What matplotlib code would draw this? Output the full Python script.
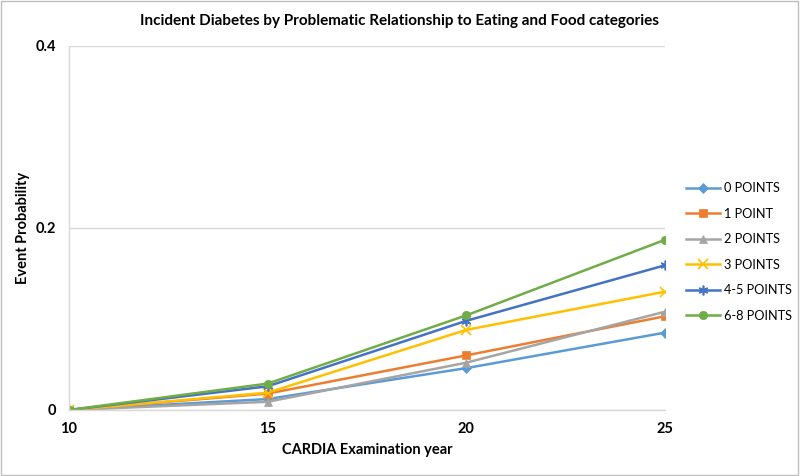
import matplotlib.pyplot as plt
from matplotlib.patches import Rectangle

# Data
years = [10, 15, 20, 25]
series_names = ["0 POINTS", "1 POINT", "2 POINTS", "3 POINTS", "4-5 POINTS", "6-8 POINTS"]
pts_0 = [0.0, 0.012, 0.046, 0.085]
pts_1 = [0.0, 0.018, 0.060, 0.103]
pts_2 = [0.0, 0.009, 0.052, 0.108]
pts_3 = [0.0, 0.019, 0.088, 0.130]
pts_45 = [0.0, 0.026, 0.098, 0.159]
pts_68 = [0.0, 0.029, 0.104, 0.187]

COLORS = ["#5B9BD5", "#ED7D31", "#A5A5A5", "#FFC000", "#4472C4", "#70AD47"]
MARKERS = ["D", "s", "^", "x", (6, 2, 0), "o"]
SIZES = [5, 6, 6, 7, 7, 6]

plt.rcParams["font.family"] = ["Lato", "DejaVu Sans"]

fig = plt.figure(figsize=(8, 4.76), dpi=100)
ax = fig.add_axes([0.08625, 0.1387, 0.745, 0.7647])

all_series = [pts_0, pts_1, pts_2, pts_3, pts_45, pts_68]
for name, vals, c, m, s in zip(series_names, all_series, COLORS, MARKERS, SIZES):
    ax.plot(years, vals, color=c, marker=m, markersize=s, linewidth=1.8,
            markeredgewidth=1.2 if m in ("x", (6, 2, 0)) else 0.5,
            label=name)

ax.set_xlim(10, 25)
ax.set_ylim(0, 0.4)
ax.set_xticks([10, 15, 20, 25])
ax.set_yticks([0, 0.2, 0.4])
ax.set_yticklabels(["0", "0.2", "0.4"])
ax.yaxis.grid(True, color="#D9D9D9", linewidth=1)
ax.set_axisbelow(True)
for side in ["top", "right"]:
    ax.spines[side].set_visible(False)
for side in ["left", "bottom"]:
    ax.spines[side].set_color("#D9D9D9")
    ax.spines[side].set_linewidth(1)
ax.tick_params(length=0, labelsize=10.5)
ax.tick_params(axis="x", pad=9)
ax.tick_params(axis="y", pad=9)
for lbl in ax.get_xticklabels() + ax.get_yticklabels():
    lbl.set_fontweight("bold")

ax.set_xlabel("CARDIA Examination year", fontsize=10.5, fontweight="bold", labelpad=5)
ax.set_ylabel("Event Probability", fontsize=10.5, fontweight="bold", labelpad=4)
fig.suptitle("Incident Diabetes by Problematic Relationship to Eating and Food categories",
             fontsize=11, fontweight="bold", y=0.97)

leg = ax.legend(loc="center left", bbox_to_anchor=(1.035, 0.434), frameon=False,
                fontsize=9.2, handlelength=2.7, labelspacing=1.05, handletextpad=0.3,
                borderpad=0, borderaxespad=0)

fig.add_artist(Rectangle((0.001, 0.002), 0.997, 0.995, transform=fig.transFigure,
                         fill=False, edgecolor="#BFBFBF", linewidth=1))

fig.savefig("out.png", dpi=100)
